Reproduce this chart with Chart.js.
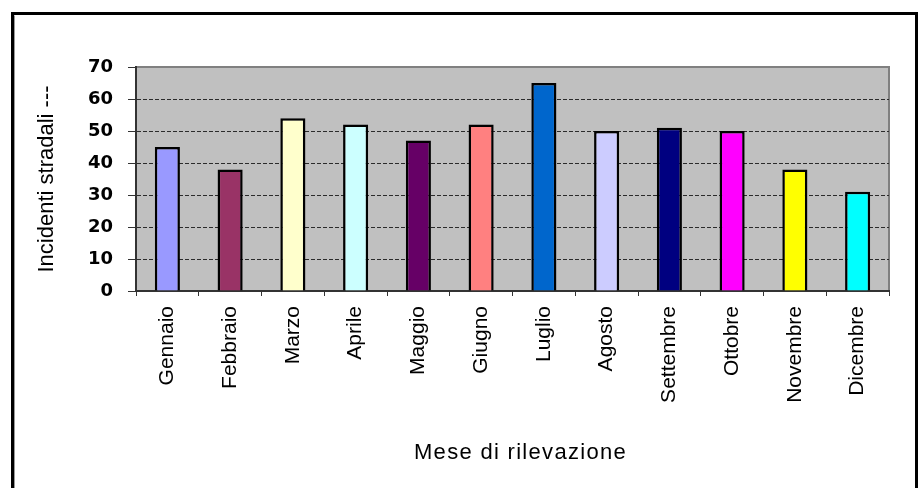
<!DOCTYPE html>
<html>
<head>
<meta charset="utf-8">
<script src="https://cdn.jsdelivr.net/npm/chart.js@4/dist/chart.umd.min.js"></script>
<style>
  html, body { margin: 0; padding: 0; background: #ffffff; }
  #wrap { position: relative; width: 922px; height: 488px; }
</style>
</head>
<body>
<div id="wrap"><canvas id="c" width="922" height="488"></canvas></div>
<script>
const months = ['Gennaio','Febbraio','Marzo','Aprile','Maggio','Giugno','Luglio','Agosto','Settembre','Ottobre','Novembre','Dicembre'];
const incidents = [45, 38, 54, 52, 47, 52, 65, 50, 51, 50, 38, 31];
const barColors = ['#9999FF','#993366','#FFFFCC','#CCFFFF','#660066','#FF8080','#0066CC','#CCCCFF','#000080','#FF00FF','#FFFF00','#00FFFF'];
const yTitle = 'Incidenti stradali ---';
const xTitle = 'Mese di rilevazione';
const yMin = 0, yMax = 70, yStep = 10;

const framePlugin = {
  id: 'frame',
  beforeDraw(chart) {
    const ctx = chart.ctx;
    const a = chart.chartArea;
    ctx.save();
    ctx.strokeStyle = '#000';
    ctx.lineWidth = 3;
    ctx.beginPath();
    ctx.moveTo(12.5, 500);
    ctx.lineTo(12.5, 13.5);
    ctx.lineTo(916.5, 13.5);
    ctx.lineTo(916.5, 500);
    ctx.stroke();
    ctx.strokeStyle = '#9a9a9a';
    ctx.lineWidth = 1;
    ctx.beginPath();
    ctx.moveTo(14.5, 500);
    ctx.lineTo(14.5, 15.5);
    ctx.stroke();
    ctx.fillStyle = '#C0C0C0';
    ctx.fillRect(a.left, a.top, a.right - a.left, a.bottom - a.top);
    ctx.strokeStyle = '#808080';
    ctx.lineWidth = 2;
    ctx.beginPath();
    ctx.moveTo(a.left, a.top);
    ctx.lineTo(a.right, a.top);
    ctx.lineTo(a.right, a.bottom);
    ctx.stroke();
    ctx.restore();
  },
  afterDraw(chart) {
    const ctx = chart.ctx;
    const a = chart.chartArea;
    ctx.save();
    ctx.fillStyle = '#000';
    ctx.font = '22px "Liberation Sans"';
    if ('letterSpacing' in ctx) ctx.letterSpacing = '1.3px';
    ctx.textAlign = 'center';
    ctx.textBaseline = 'middle';
    ctx.fillText(xTitle, (a.left + a.right) / 2 + 8, 453);
    ctx.restore();
  }
};

new Chart(document.getElementById('c'), {
  type: 'bar',
  data: {
    labels: months,
    datasets: [{
      data: incidents,
      backgroundColor: barColors,
      borderColor: '#000000',
      borderWidth: 2.5,
      barPercentage: 0.4,
      categoryPercentage: 1.0
    }]
  },
  plugins: [framePlugin],
  options: {
    responsive: false,
    animation: false,
    events: [],
    layout: { padding: { left: 14, top: 67, right: 33, bottom: 0 } },
    plugins: { legend: { display: false }, tooltip: { enabled: false } },
    scales: {
      y: {
        min: yMin, max: yMax,
        ticks: {
          stepSize: yStep,
          color: '#000',
          padding: 15,
          font: { family: 'DejaVu Sans', size: 18, weight: 'bold' }
        },
        grid: {
          color: (c) => (c.tick && (c.tick.value === yMax || c.tick.value === yMin)) ? 'rgba(0,0,0,0)' : '#2b2b2b',
          lineWidth: 1,
          tickLength: 8,
          tickColor: '#333333',
          tickWidth: 1
        },
        border: { display: true, color: '#333333', width: 2, dash: [4, 2] },
        title: {
          display: true,
          text: yTitle,
          color: '#000',
          padding: { top: 20, bottom: 0 },
          font: { family: 'Liberation Sans', size: 22 }
        },
        afterFit: (s) => { s.width = 122; }
      },
      x: {
        ticks: {
          color: '#000',
          minRotation: 90,
          maxRotation: 90,
          padding: 10,
          autoSkip: false,
          font: { family: 'Liberation Sans', size: 21 }
        },
        grid: {
          offset: true,
          drawOnChartArea: false,
          tickLength: 5,
          tickColor: '#333333',
          tickWidth: 1
        },
        border: { display: true, color: '#333333', width: 2 },
        title: { display: false },
        afterFit: (s) => { s.height = 197; }
      }
    }
  }
});
</script>
</body>
</html>
